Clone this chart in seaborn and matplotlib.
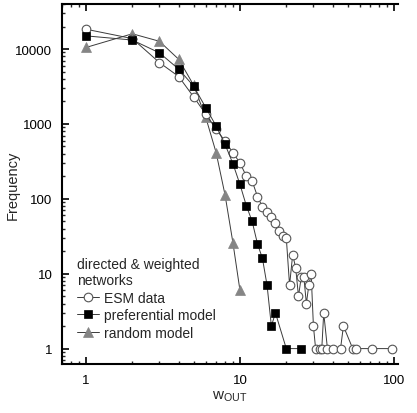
import matplotlib
matplotlib.use("Agg")
import matplotlib.pyplot as plt
import matplotlib.ticker as mticker
import seaborn as sns
import pandas as pd

# ---- data ----
w_esm = [1, 2, 3, 4, 5, 6, 7, 8, 9, 10, 11, 12, 13, 14, 15, 16, 17, 18, 19, 20,
         21, 22, 23, 24, 25, 26, 27, 28, 29, 30, 31, 33, 34, 35, 37, 40, 45, 47,
         54, 57, 72, 97]
f_esm = [18400, 13800, 6600, 4300, 2300, 1350, 850, 590, 413, 302, 201, 173, 107,
         78, 66, 57, 48, 37, 32, 30, 7, 18, 12, 5, 9, 9, 4, 7, 10, 2, 1, 1, 1, 3,
         1, 1, 1, 2, 1, 1, 1, 1]

w_pref = [1, 2, 3, 4, 5, 6, 7, 8, 9, 10, 11, 12, 13, 14, 15, 16, 17, 20, 25]
f_pref = [15000, 13200, 8900, 5400, 3200, 1650, 940, 535, 295, 156, 81, 50, 25,
          16, 7, 2, 3, 1, 1]

w_rand = [1, 2, 3, 4, 5, 6, 7, 8, 9, 10]
f_rand = [10500, 16000, 12700, 7300, 3300, 1220, 415, 113, 26, 6]

series_names = ["ESM data", "preferential model", "random model"]
legend_title = "directed & weighted\nnetworks"
x_ticks = [1, 10, 100]
y_ticks = [1, 10, 100, 1000, 10000]

# ---- style ----
sns.set_style("ticks")
plt.rcParams["font.family"] = ["Liberation Sans", "DejaVu Sans"]
plt.rcParams["mathtext.fontset"] = "custom"
plt.rcParams["mathtext.rm"] = "Liberation Sans"
plt.rcParams["mathtext.it"] = "Liberation Sans"

fig = plt.figure(figsize=(4.17, 4.14), dpi=100)
ax = fig.add_axes([0.149, 0.118, 0.805, 0.870])

line_col = "#3a3a3a"
df_r = pd.DataFrame({"w": w_rand, "f": f_rand})
df_e = pd.DataFrame({"w": w_esm, "f": f_esm})
df_p = pd.DataFrame({"w": w_pref, "f": f_pref})

sns.lineplot(data=df_r, x="w", y="f", ax=ax, color=line_col, lw=0.7,
             marker="^", markersize=7.5, markerfacecolor="#858585",
             markeredgecolor="#858585", markeredgewidth=0.5,
             estimator=None, sort=False, label=series_names[2], zorder=2)
sns.lineplot(data=df_e, x="w", y="f", ax=ax, color=line_col, lw=0.7,
             marker="o", markersize=6.2, markerfacecolor="white",
             markeredgecolor="#555555", markeredgewidth=0.8,
             estimator=None, sort=False, label=series_names[0], zorder=3)
sns.lineplot(data=df_p, x="w", y="f", ax=ax, color=line_col, lw=0.7,
             marker="s", markersize=6.2, markerfacecolor="black",
             markeredgecolor="black", markeredgewidth=0.5,
             estimator=None, sort=False, label=series_names[1], zorder=4)

ax.set_xscale("log")
ax.set_yscale("log")
ax.set_xlim(0.70, 106)
ax.set_ylim(0.62, 40000)

ax.xaxis.set_major_locator(mticker.FixedLocator(x_ticks))
ax.yaxis.set_major_locator(mticker.FixedLocator(y_ticks))
ax.xaxis.set_major_formatter(mticker.FuncFormatter(lambda v, p: f"{int(round(v))}"))
ax.yaxis.set_major_formatter(mticker.FuncFormatter(lambda v, p: f"{int(round(v))}"))
ax.xaxis.set_minor_locator(mticker.LogLocator(base=10, subs=range(2, 10), numticks=20))
ax.yaxis.set_minor_locator(mticker.LogLocator(base=10, subs=range(2, 10), numticks=20))
ax.xaxis.set_minor_formatter(mticker.NullFormatter())
ax.yaxis.set_minor_formatter(mticker.NullFormatter())

ax.tick_params(which="major", direction="in", length=5, width=1.2,
               top=True, right=False, labelsize=9.5, pad=7, colors="black")
ax.tick_params(which="minor", direction="in", length=2.5, width=1.0,
               top=True, right=False)

for s in ["left", "bottom", "top"]:
    ax.spines[s].set_linewidth(1.5)
    ax.spines[s].set_color("black")
ax.spines["right"].set_visible(False)

ax.set_ylabel("Frequency", fontsize=10.5)
ax.yaxis.set_label_coords(-0.125, 0.5)
ax.set_xlabel(r"w$_{\mathrm{OUT}}$", fontsize=11, labelpad=2)

handles, labels = ax.get_legend_handles_labels()
order = [labels.index(n) for n in series_names]
leg = ax.legend([handles[i] for i in order], [labels[i] for i in order],
                title=legend_title, loc="lower left", bbox_to_anchor=(0.02, 0.045),
                frameon=False, fontsize=10, title_fontsize=10, handlelength=1.6,
                handletextpad=0.3, labelspacing=0.25, borderaxespad=0.2,
                alignment="left")

fig.savefig("out.png", dpi=100)
